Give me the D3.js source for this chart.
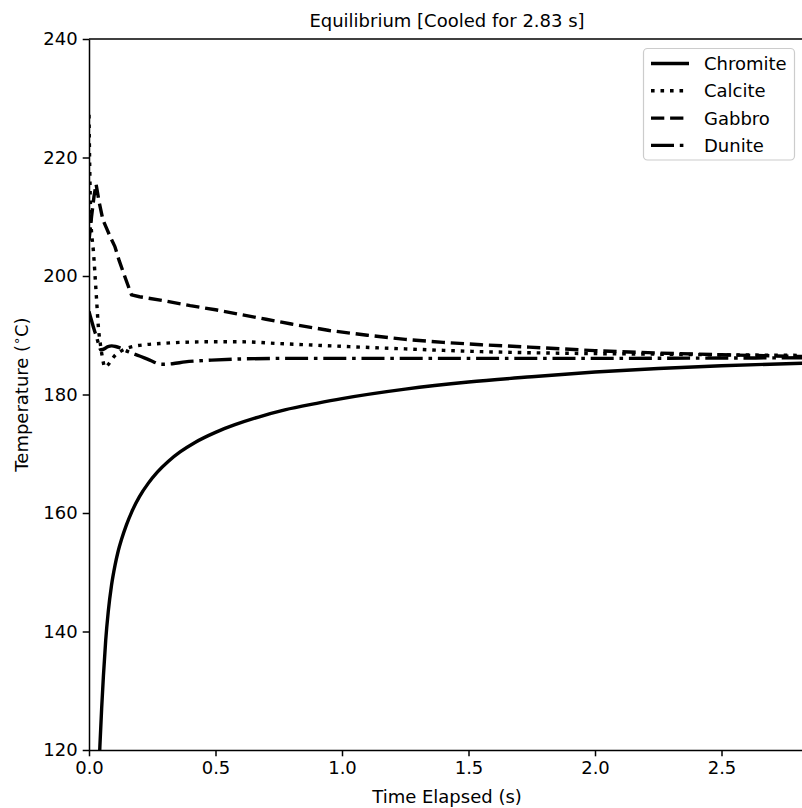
<!DOCTYPE html>
<html>
<head>
<meta charset="utf-8">
<script src="https://cdn.jsdelivr.net/npm/d3@7"></script>
<style>
  html, body { margin: 0; padding: 0; background: #fff; }
  text { font-family: "DejaVu Sans", sans-serif; }
</style>
</head>
<body>
<svg id="chart" width="802" height="808"></svg>
<script>
// ---- data ----
const chromiteT = [0.035, 0.043, 0.05, 0.057, 0.066, 0.076, 0.089, 0.103, 0.115, 0.129, 0.148, 0.169, 0.2, 0.234, 0.27, 0.313, 0.36, 0.419, 0.5, 0.577, 0.67, 0.774, 0.9, 1.0, 1.25, 1.5, 1.75, 2.0, 2.25, 2.5, 2.83];
const chromiteV = [112, 120.6, 127, 132.5, 138.5, 143.3, 147.8, 151.2, 153.5, 155.6, 158.0, 160.2, 162.8, 165.0, 166.9, 168.7, 170.3, 171.9, 173.6, 174.9, 176.2, 177.4, 178.5, 179.3, 180.9, 182.1, 183.0, 183.8, 184.4, 184.85, 185.3];

const calciteT = [0, 0.003, 0.007, 0.012, 0.017, 0.024, 0.03, 0.037, 0.045, 0.052, 0.063, 0.075, 0.09, 0.105, 0.122, 0.15, 0.174, 0.22, 0.28, 0.4, 0.5, 0.6, 0.75, 0.96, 1.25, 1.5, 1.74, 2.0, 2.25, 2.5, 2.83];
const calciteV = [227.2, 218, 210, 206.5, 204.4, 200, 196, 191.4, 188.5, 186.5, 184.6, 185.0, 185.9, 186.7, 187.2, 187.8, 188.1, 188.4, 188.6, 188.85, 188.9, 188.9, 188.6, 188.2, 187.7, 187.3, 187.05, 186.9, 186.8, 186.7, 186.6];

const gabbroT = [0, 0.01, 0.02, 0.028, 0.04, 0.055, 0.07, 0.085, 0.102, 0.12, 0.145, 0.168, 0.2, 0.3, 0.4, 0.5, 0.6, 0.7, 0.8, 0.95, 1.1, 1.25, 1.4, 1.55, 1.74, 2.0, 2.25, 2.5, 2.83];
const gabbroV = [206, 210, 213.5, 215.5, 212.5, 209.5, 208, 206.5, 205, 202.5, 199.5, 196.8, 196.5, 195.8, 195.0, 194.3, 193.5, 192.7, 191.9, 190.8, 190.0, 189.3, 188.8, 188.4, 188.0, 187.4, 187.0, 186.7, 186.4];

const duniteT = [0, 0.01, 0.02, 0.03, 0.04, 0.047, 0.06, 0.075, 0.09, 0.105, 0.12, 0.145, 0.169, 0.2, 0.24, 0.287, 0.33, 0.38, 0.485, 0.6, 0.774, 1.0, 1.5, 2.0, 2.5, 2.83];
const duniteV = [194, 192.5, 191, 189.7, 188.2, 187.5, 187.7, 188.1, 188.2, 188.1, 187.9, 187.4, 187.0, 186.5, 185.8, 185.1, 185.2, 185.5, 185.8, 186.0, 186.1, 186.1, 186.1, 186.1, 186.15, 186.2];

const seriesNames = ["Chromite", "Calcite", "Gabbro", "Dunite"];
const xTicks = [0.0, 0.5, 1.0, 1.5, 2.0, 2.5];
const yTicks = [120, 140, 160, 180, 200, 220, 240];
const titleText = "Equilibrium [Cooled for 2.83 s]";

// ---- layout ----
const svg = d3.select("#chart");
const L = 89, T = 39, R = 805, B = 750;
const x = d3.scaleLinear().domain([0, 2.83]).range([L, R]);
const y = d3.scaleLinear().domain([120, 240]).range([B, T]);

const lw = 3.4;
const styles = {
  Chromite: { dash: null, curve: d3.curveMonotoneX },
  Calcite: { dash: [3.6, 5.9], curve: d3.curveMonotoneX },
  Gabbro: { dash: [13.3, 5.8], curve: d3.curveLinear },
  Dunite: { dash: [23, 5.8, 3.6, 5.8], curve: d3.curveMonotoneX }
};
const data = {
  Chromite: chromiteT.map((t, i) => [t, chromiteV[i]]),
  Calcite: calciteT.map((t, i) => [t, calciteV[i]]),
  Gabbro: gabbroT.map((t, i) => [t, gabbroV[i]]),
  Dunite: duniteT.map((t, i) => [t, duniteV[i]])
};

svg.append("defs").append("clipPath").attr("id", "clip")
  .append("rect").attr("x", L).attr("y", T).attr("width", R - L).attr("height", B - T);

const plot = svg.append("g").attr("clip-path", "url(#clip)");
seriesNames.forEach(name => {
  const st = styles[name];
  const line = d3.line().x(d => x(d[0])).y(d => y(d[1])).curve(st.curve);
  plot.append("path")
    .datum(data[name])
    .attr("d", line)
    .attr("fill", "none")
    .attr("stroke", "#000")
    .attr("stroke-width", lw)
    .attr("stroke-linecap", "butt")
    .attr("stroke-linejoin", "round")
    .attr("stroke-dasharray", st.dash ? st.dash.join(",") : null);
});

// ---- axes ----
const fs = 18;
const xAxis = svg.append("g").attr("transform", `translate(0,${B})`)
  .call(d3.axisBottom(x).tickValues(xTicks).tickFormat(d3.format(".1f")).tickSizeInner(6.3).tickSizeOuter(0).tickPadding(5));
const yAxis = svg.append("g").attr("transform", `translate(${L},0)`)
  .call(d3.axisLeft(y).tickValues(yTicks).tickFormat(d3.format("d")).tickSizeInner(6.3).tickSizeOuter(0).tickPadding(5));
[xAxis, yAxis].forEach(a => {
  a.selectAll("path").attr("stroke", "#000").attr("stroke-width", 1.5);
  a.selectAll("line").attr("stroke", "#000").attr("stroke-width", 1.5);
  a.selectAll("text").attr("font-size", fs).attr("font-family", "DejaVu Sans").attr("fill", "#000");
});
// top and right spines
svg.append("line").attr("x1", L).attr("x2", R).attr("y1", T).attr("y2", T).attr("stroke", "#000").attr("stroke-width", 1.5);
svg.append("line").attr("x1", R).attr("x2", R).attr("y1", T).attr("y2", B).attr("stroke", "#000").attr("stroke-width", 1.5);

// ---- titles ----
svg.append("text").attr("x", (L + R) / 2).attr("y", 27).attr("text-anchor", "middle")
  .attr("font-size", fs).text(titleText);
svg.append("text").attr("x", (L + R) / 2).attr("y", 803).attr("text-anchor", "middle")
  .attr("font-size", fs).text("Time Elapsed (s)");
const yl = svg.append("text").attr("transform", `translate(28,${(T + B) / 2}) rotate(-90)`)
  .attr("text-anchor", "middle").attr("font-size", fs);
yl.append("tspan").text("Temperature (");
yl.append("tspan").attr("font-size", fs * 0.7).attr("dy", -7).text("\u2218");
yl.append("tspan").attr("dy", 7).text("C)");

// ---- legend ----
const lg = svg.append("g");
lg.append("rect").attr("x", 643.5).attr("y", 48.5).attr("width", 151).attr("height", 111.5)
  .attr("rx", 4).attr("fill", "#fff").attr("fill-opacity", 0.8).attr("stroke", "#cccccc").attr("stroke-width", 1.2);
seriesNames.forEach((name, i) => {
  const cy = 63.5 + i * 27.3;
  const st = styles[name];
  lg.append("line").attr("x1", 651).attr("x2", 689).attr("y1", cy).attr("y2", cy)
    .attr("stroke", "#000").attr("stroke-width", lw)
    .attr("stroke-dasharray", st.dash ? st.dash.join(",") : null);
  lg.append("text").attr("x", 704).attr("y", cy + 6.5).attr("font-size", fs).text(name);
});
</script>
</body>
</html>
